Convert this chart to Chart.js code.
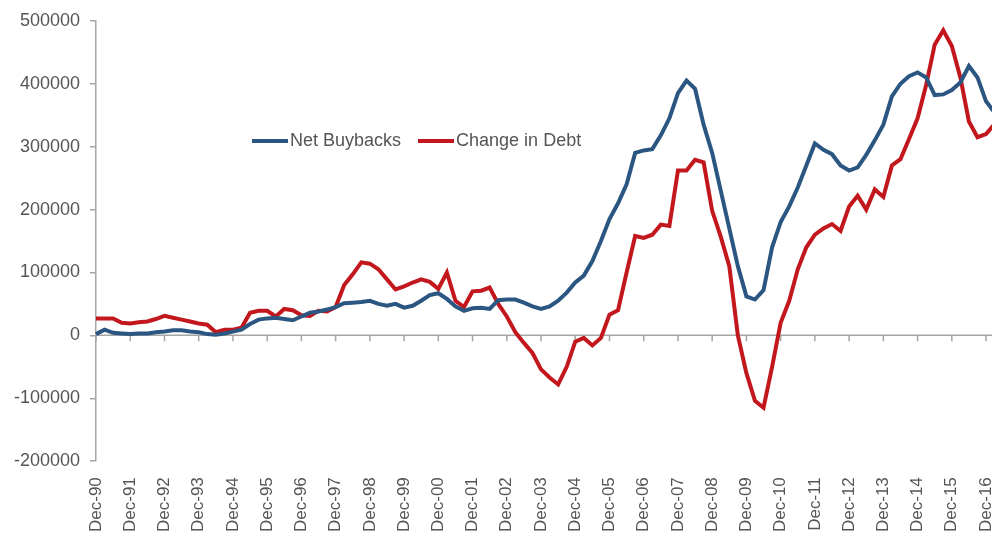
<!DOCTYPE html>
<html>
<head>
<meta charset="utf-8">
<script src="https://cdn.jsdelivr.net/npm/chart.js@4.4.1/dist/chart.umd.min.js"></script>
<style>
  html, body { margin: 0; padding: 0; background: #fff; overflow: hidden; }
  #wrap { position: absolute; left: 0; top: 0; width: 1023px; height: 540px; }
  #legend { position: absolute; left: 252px; top: 130px; font: 18px "Liberation Sans", Arial, sans-serif; color: #555; display: flex; align-items: center; }
  #legend .item { display: flex; align-items: center; margin-right: 17px; }
  #legend .sw { width: 36px; height: 4px; margin-right: 2px; }
</style>
</head>
<body>
<div id="wrap"><canvas id="buybackChart"></canvas></div>
<div id="legend"></div>
<script>
// quarterly points, Dec-90 .. Mar-17 (values in thousands)
const quarterMonths = ["Dec", "Mar", "Jun", "Sep"];
const firstYear = 1990;
const pointCount = 106;

const netBuybacks = [
  2, 9, 4, 3, 2, 3, 3, 5, 6, 8, 8, 6, 5, 2, 1, 3,
  6, 9, 18, 25, 27, 28, 26, 24, 30, 36, 38, 41, 45, 51, 52, 53,
  55, 50, 47, 50, 44, 47, 55, 64, 67, 58, 46, 39, 43, 44, 42, 56,
  57, 57, 52, 46, 42, 46, 55, 68, 84, 95, 118, 150, 185, 210, 240, 290,
  294, 296, 318, 345, 385, 405, 392, 335, 290, 230, 170, 110, 62, 57, 72, 140,
  180, 205, 235, 270, 305, 295, 288, 270, 262, 267, 287, 310, 335, 380, 400, 412,
  418, 410, 382, 383, 390, 402, 428, 410, 372, 354
];

const changeInDebt = [
  27, 27, 27, 20, 19, 21, 22, 26, 31, 28, 25, 22, 19, 17, 5, 9,
  9, 12, 36, 39, 39, 30, 42, 40, 32, 31, 39, 38, 45, 80, 97, 116,
  114, 105, 89, 73, 78, 84, 89, 85, 74, 100, 55, 45, 70, 71, 76, 50,
  30, 5, -12, -28, -54, -67, -78, -50, -10, -4, -16, -4, 33, 40, 100, 158,
  155, 160, 176, 174, 262, 262, 279, 275, 198, 157, 110, 0, -60, -104, -115, -50,
  20, 55, 105, 140, 160, 170, 177, 166, 205, 222, 200, 232, 220, 270, 280, 312,
  345, 398, 462, 485, 460, 410, 340, 315, 320, 336
];

const yTicks = [-200000, -100000, 0, 100000, 200000, 300000, 400000, 500000];

const labels = [];
for (let i = 0; i < pointCount; i++) {
  const yr = firstYear + Math.floor((i + 3) / 4);
  labels.push(quarterMonths[i % 4] + "-" + String(yr).slice(2));
}

const series = [
  { name: "Net Buybacks", color: "#2b5682", values: netBuybacks },
  { name: "Change in Debt", color: "#c2171d", values: changeInDebt }
];

const fontFamily = '"Liberation Sans", Arial, sans-serif';
const axisGrey = "#a6a6a6";

// horizontal axis sits on the zero line, with a tick at every December
const zeroAxis = {
  id: "zeroAxis",
  beforeDatasetsDraw(chart) {
    const { ctx, chartArea, scales } = chart;
    const y0 = scales.y.getPixelForValue(0);
    ctx.save();
    ctx.strokeStyle = axisGrey;
    ctx.lineWidth = 1.5;
    ctx.beginPath();
    ctx.moveTo(chartArea.left, y0);
    ctx.lineTo(chartArea.right, y0);
    labels.forEach((l, i) => {
      if (l.startsWith("Dec")) {
        const x = scales.x.getPixelForValue(i);
        ctx.moveTo(x, y0);
        ctx.lineTo(x, y0 + 6);
      }
    });
    ctx.stroke();
    ctx.restore();
  }
};

const ctx = document.getElementById("buybackChart").getContext("2d");

const buybackChart = new Chart(ctx, {
  type: "line",
  data: {
    labels: labels,
    datasets: series.map(s => ({
      label: s.name,
      data: s.values.map(v => v * 1000),
      borderColor: s.color,
      backgroundColor: s.color,
      borderWidth: 4,
      pointRadius: 0,
      tension: 0
    }))
  },
  options: {
    responsive: true,
    maintainAspectRatio: false,
    animation: false,
    layout: { padding: { top: 11, left: 0, right: 0, bottom: 0 } },
    plugins: {
      legend: { display: false },
      tooltip: { enabled: false }
    },
    scales: {
      x: {
        type: "category",
        offset: false,
        grid: { display: false },
        border: { display: false },
        ticks: {
          autoSkip: false,
          minRotation: 90,
          maxRotation: 90,
          padding: 8,
          color: "#555",
          font: { family: fontFamily, size: 17 },
          callback: function (val, i) {
            const l = labels[i];
            return l.startsWith("Dec") ? l : "";
          }
        }
      },
      y: {
        min: -200000,
        max: 500000,
        afterBuildTicks: axis => { axis.ticks = yTicks.map(v => ({ value: v })); },
        afterFit: axis => { axis.width = 96; },
        grid: { drawOnChartArea: false, drawTicks: true, tickLength: 6, color: axisGrey, lineWidth: 1.5 },
        border: { display: true, color: axisGrey, width: 1.5 },
        ticks: {
          padding: 10,
          color: "#555",
          font: { family: fontFamily, size: 18 },
          callback: v => String(v)
        }
      }
    }
  },
  plugins: [zeroAxis]
});

// legend drawn as html over the plot
const legendBox = document.getElementById("legend");
series.forEach(s => {
  const item = document.createElement("div");
  item.className = "item";
  const sw = document.createElement("span");
  sw.className = "sw";
  sw.style.background = s.color;
  const txt = document.createElement("span");
  txt.textContent = s.name;
  item.appendChild(sw);
  item.appendChild(txt);
  legendBox.appendChild(item);
});
</script>
</body>
</html>
